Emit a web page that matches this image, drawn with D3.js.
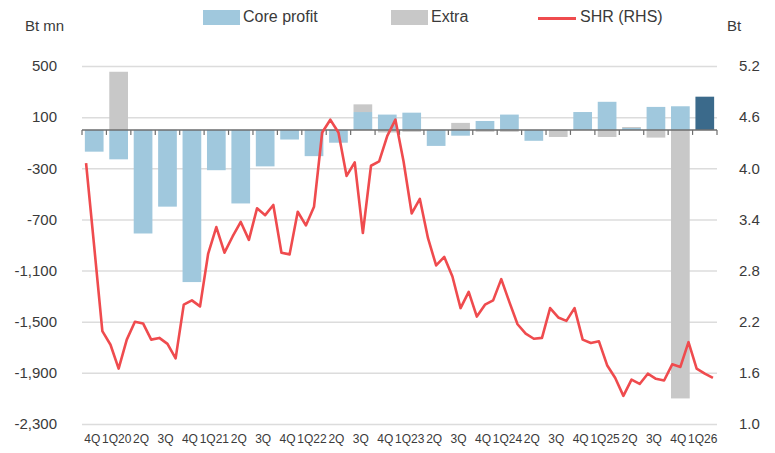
<!DOCTYPE html>
<html lang="en">
<head>
    <meta charset="utf-8">
    <style type="text/css">
        body { margin: 0; background: #fff; }
        text { font-family: "Liberation Sans", Arial, sans-serif; fill: #3a3a3a; }
        .grid line { stroke: #dcdcdc; stroke-width: 1.5px; }
        .shr { fill: none; stroke: #ef4b4e; stroke-width: 2.6px; stroke-linejoin: round; }
    </style>
</head>
<body>
<svg width="775" height="453"></svg>

<script src="https://cdnjs.cloudflare.com/ajax/libs/d3/7.8.5/d3.min.js"></script>
<script type="text/javascript">

    // quarters, 4Q19 .. 1Q26
    var periods = ["4Q19","1Q20","2Q20","3Q20","4Q20","1Q21","2Q21","3Q21","4Q21","1Q22","2Q22","3Q22","4Q22",
                   "1Q23","2Q23","3Q23","4Q23","1Q24","2Q24","3Q24","4Q24","1Q25","2Q25","3Q25","4Q25","1Q26"];
    var tickLabels = ["4Q","1Q20","2Q","3Q","4Q","1Q21","2Q","3Q","4Q","1Q22","2Q","3Q","4Q",
                      "1Q23","2Q","3Q","4Q","1Q24","2Q","3Q","4Q","1Q25","2Q","3Q","4Q","1Q26"];

    // Bt mn
    var coreProfit = [-170,-230,-810,-600,-1190,-315,-575,-285,-75,-205,-100,140,120,
                      135,-125,-45,70,120,-85,0,140,220,15,180,185,260];
    var extraItems = [0,455,0,0,0,0,0,0,0,0,0,60,-20,
                      -15,0,55,-15,-15,0,-55,0,-55,8,-60,-2100,0];

    // share price, monthly (Bt)
    var shr = [4.06,3.08,2.09,1.93,1.65,1.99,2.20,2.18,1.99,2.01,
               1.94,1.77,2.40,2.45,2.38,3.00,3.31,3.01,3.20,3.37,
               3.16,3.53,3.45,3.57,3.01,2.99,3.49,3.33,3.55,4.42,
               4.57,4.42,3.91,4.07,3.24,4.03,4.08,4.38,4.57,4.08,
               3.47,3.64,3.18,2.86,2.96,2.73,2.36,2.55,2.26,2.40,
               2.45,2.70,2.43,2.17,2.06,2.00,2.01,2.36,2.25,2.21,
               2.36,1.99,1.95,1.97,1.69,1.54,1.33,1.52,1.47,1.59,
               1.53,1.51,1.70,1.67,1.96,1.65,1.59,1.54];

    var leftTicks = [500,100,-300,-700,-1100,-1500,-1900,-2300];
    var rightTicks = [5.2,4.6,4.0,3.4,2.8,2.2,1.6,1.0];

    var colors = { core: "#a0c8dd", extra: "#c8c8c8", last: "#3b6a8b" };

    var svg = d3.select("svg"),
        x0 = 82, x1 = 717, yTop = 66, yBot = 424;

    var x = d3.scaleBand().domain(periods).range([x0, x1]).paddingInner(0.234).paddingOuter(0.117);
    var xm = d3.scaleLinear().domain([0, periods.length * 3]).range([x0, x1]);
    var yL = d3.scaleLinear().domain([-2300, 500]).range([yBot, yTop]);
    var yR = d3.scaleLinear().domain([1.0, 5.2]).range([yBot, yTop]);

    var fmt = d3.formatLocale({decimal: ".", thousands: ",", grouping: [3], currency: ["", ""], minus: "-"}).format(",");

//----------------------------------------
    svg.append("g")
        .attr("class", "grid")
        .attr("transform", "translate(" + x0 + ",0)")
        .call(d3.axisLeft(yL).tickValues(leftTicks).tickSize(-(x1 - x0)).tickFormat(""))
        .call(function (g) { g.select(".domain").remove(); });

    svg.append("g")
        .attr("transform", "translate(57,0)")
        .call(d3.axisLeft(yL).tickValues(leftTicks).tickSize(0).tickPadding(0).tickFormat(fmt))
        .call(function (g) {
            g.select(".domain").remove();
            g.selectAll("text").style("font-size", "15px").attr("fill", null);
        });

    svg.append("g")
        .attr("transform", "translate(739,0)")
        .call(d3.axisRight(yR).tickValues(rightTicks).tickSize(0).tickPadding(0).tickFormat(d3.format(".1f")))
        .call(function (g) {
            g.select(".domain").remove();
            g.selectAll("text").style("font-size", "15px").attr("fill", null);
        });

//----------------------------------------
    var rows = periods.map(function (p, i) { return {period: p, core: coreProfit[i], extra: extraItems[i]}; });
    var stacked = d3.stack().keys(["core", "extra"]).offset(d3.stackOffsetDiverging)(rows);

    svg.append("g")
        .selectAll("g")
        .data(stacked)
        .enter()
        .append("g")
        .selectAll("rect")
        .data(function (s) { return s.map(function (d) { d.key = s.key; return d; }); })
        .enter()
        .append("rect")
        .attr("x", function (d) { return x(d.data.period); })
        .attr("width", x.bandwidth())
        .attr("y", function (d) { return yL(Math.max(d[0], d[1])); })
        .attr("height", function (d) { return Math.abs(yL(d[0]) - yL(d[1])); })
        .attr("fill", function (d) {
            if (d.key === "core" && d.data.period === "1Q26") return colors.last;
            return colors[d.key];
        });

    // zero axis with a tick at each quarter boundary
    var zero = svg.append("g").attr("transform", "translate(0," + yL(0) + ")");
    zero.append("line")
        .attr("x1", x0).attr("x2", x1)
        .attr("stroke", "#6e6e6e").attr("stroke-width", 1.5);
    zero.selectAll(".tk")
        .data(d3.range(0, periods.length + 1))
        .enter()
        .append("line")
        .attr("class", "tk")
        .attr("x1", function (k) { return xm(k * 3); })
        .attr("x2", function (k) { return xm(k * 3); })
        .attr("y1", 0).attr("y2", 5)
        .attr("stroke", "#6e6e6e").attr("stroke-width", 1.2);

    svg.append("g")
        .attr("transform", "translate(-2,434)")
        .call(d3.axisBottom(x).tickSize(0).tickPadding(0).tickFormat(function (d, i) { return tickLabels[i]; }))
        .call(function (g) {
            g.select(".domain").remove();
            g.selectAll("text").style("font-size", "12px").attr("fill", null);
        });

//----------------------------------------
    var line = d3.line()
        .x(function (d, i) { return xm(i + 0.5); })
        .y(function (d) { return yR(d); });

    svg.append("path")
        .datum(shr)
        .attr("class", "shr")
        .attr("d", line);

//----------------------------------------
    svg.append("text").attr("x", 25).attr("y", 26).attr("dy", "0.35em").style("font-size", "15px").text("Bt mn");
    svg.append("text").attr("x", 727).attr("y", 26).attr("dy", "0.35em").style("font-size", "15px").text("Bt");

    var legend = [
        {label: "Core profit", color: colors.core, x: 203, type: "rect"},
        {label: "Extra", color: colors.extra, x: 391, type: "rect"},
        {label: "SHR (RHS)", color: "#ef4b4e", x: 538, type: "line"}
    ];
    var lg = svg.append("g").selectAll("g").data(legend).enter().append("g")
        .attr("transform", function (d) { return "translate(" + d.x + ",0)"; });
    lg.filter(function (d) { return d.type === "rect"; })
        .append("rect")
        .attr("x", 0).attr("y", 10).attr("width", 37).attr("height", 15)
        .attr("fill", function (d) { return d.color; });
    lg.filter(function (d) { return d.type === "line"; })
        .append("line")
        .attr("x1", 0).attr("x2", 38).attr("y1", 18.5).attr("y2", 18.5)
        .attr("stroke", function (d) { return d.color; }).attr("stroke-width", 3);
    lg.append("text")
        .attr("x", function (d) { return d.type === "rect" ? 40 : 42; })
        .attr("y", 16)
        .attr("dy", "0.35em")
        .style("font-size", "16px")
        .text(function (d) { return d.label; });

</script>
</body>
</html>
